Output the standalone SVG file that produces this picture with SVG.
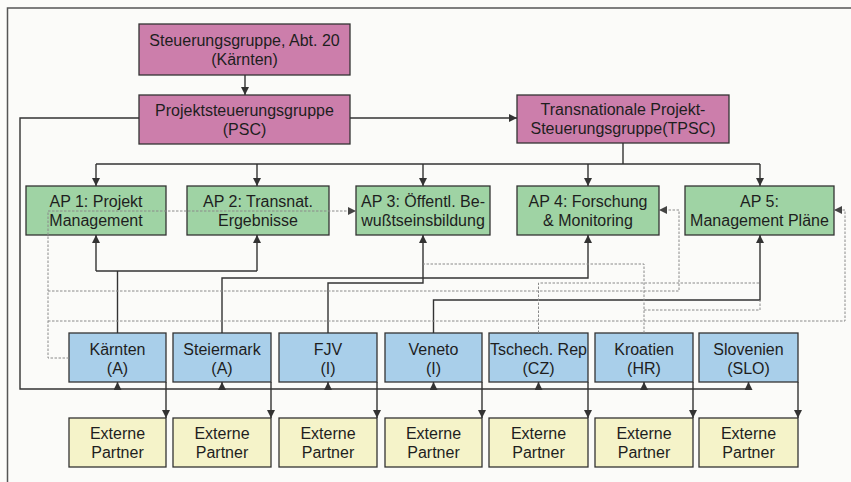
<svg xmlns="http://www.w3.org/2000/svg" width="851" height="482" viewBox="0 0 851 482">
<style>
.bg{fill:#fbfbf9}
.frame{fill:none;stroke:#555;stroke-width:1.5}
.box{stroke:#333;stroke-width:1.3}
.pink{fill:#cc7eab}
.green{fill:#9fd3a4}
.blue{fill:#a9cfea}
.yellow{fill:#f5f3c9}
text{font-family:"Liberation Sans",Arial,sans-serif;font-size:16px;fill:#1e1e1e;text-anchor:middle}
.solid{fill:none;stroke:#333;stroke-width:1.4}
.dot{fill:none;stroke:#8a8a8a;stroke-width:1;stroke-dasharray:2.5,1.5}
</style>
<defs>
<marker id="ah" viewBox="0 0 10 10" refX="10" refY="5" markerWidth="8" markerHeight="8" markerUnits="userSpaceOnUse" orient="auto">
<path d="M0,0 L10,5 L0,10 z" fill="#333"/>
</marker>
<marker id="ahg" viewBox="0 0 10 10" refX="10" refY="5" markerWidth="8" markerHeight="8" markerUnits="userSpaceOnUse" orient="auto">
<path d="M0,0 L10,5 L0,10 z" fill="#444"/>
</marker>
</defs>
<rect class="bg" x="0" y="0" width="851" height="482"/>
<path class="frame" d="M7.5,482 V8 H851"/>

<g id="steuerungsgruppe"><rect class="box pink" x="139" y="24" width="211" height="51"/><text x="244.5" y="46">Steuerungsgruppe, Abt. 20</text><text x="244.5" y="65">(Kärnten)</text></g>
<g id="psc"><rect class="box pink" x="139" y="95" width="211" height="49"/><text x="244.5" y="116">Projektsteuerungsgruppe</text><text x="244.5" y="135">(PSC)</text></g>
<g id="tpsc"><rect class="box pink" x="517" y="95" width="212" height="48"/><text x="623" y="115">Transnationale Projekt-</text><text x="623" y="134">Steuerungsgruppe(TPSC)</text></g>

<g id="ap1"><rect class="box green" x="26" y="186" width="140" height="49"/><text x="96" y="207">AP 1: Projekt</text><text x="96" y="226">Management</text></g>
<g id="ap2"><rect class="box green" x="187" y="186" width="142" height="49"/><text x="258" y="207">AP 2: Transnat.</text><text x="258" y="226">Ergebnisse</text></g>
<g id="ap3"><rect class="box green" x="356" y="186" width="134" height="49"/><text x="423" y="207">AP 3: Öffentl. Be-</text><text x="423" y="226">wußtseinsbildung</text></g>
<g id="ap4"><rect class="box green" x="517" y="186" width="142" height="49"/><text x="588" y="207">AP 4: Forschung</text><text x="588" y="226">&amp; Monitoring</text></g>
<g id="ap5"><rect class="box green" x="685" y="186" width="149" height="49"/><text x="759.5" y="207">AP 5:</text><text x="759.5" y="226">Management Pläne</text></g>

<g id="kaernten"><rect class="box blue" x="69" y="333" width="97" height="49"/><text x="117.5" y="355">Kärnten</text><text x="117.5" y="374">(A)</text></g>
<g id="steiermark"><rect class="box blue" x="173" y="333" width="98" height="49"/><text x="222" y="355">Steiermark</text><text x="222" y="374">(A)</text></g>
<g id="fjv"><rect class="box blue" x="279" y="333" width="98" height="49"/><text x="328" y="355">FJV</text><text x="328" y="374">(I)</text></g>
<g id="veneto"><rect class="box blue" x="385" y="333" width="97" height="49"/><text x="433.5" y="355">Veneto</text><text x="433.5" y="374">(I)</text></g>
<g id="tschech"><rect class="box blue" x="489" y="333" width="99" height="49"/><text x="538.5" y="355">Tschech. Rep</text><text x="538.5" y="374">(CZ)</text></g>
<g id="kroatien"><rect class="box blue" x="595" y="333" width="98" height="49"/><text x="644" y="355">Kroatien</text><text x="644" y="374">(HR)</text></g>
<g id="slovenien"><rect class="box blue" x="699" y="333" width="99" height="49"/><text x="748.5" y="355">Slovenien</text><text x="748.5" y="374">(SLO)</text></g>

<g id="ep1"><rect class="box yellow" x="69" y="418" width="97" height="49"/><text x="117.5" y="439">Externe</text><text x="117.5" y="458">Partner</text></g>
<g id="ep2"><rect class="box yellow" x="173" y="418" width="98" height="49"/><text x="222" y="439">Externe</text><text x="222" y="458">Partner</text></g>
<g id="ep3"><rect class="box yellow" x="279" y="418" width="98" height="49"/><text x="328" y="439">Externe</text><text x="328" y="458">Partner</text></g>
<g id="ep4"><rect class="box yellow" x="385" y="418" width="97" height="49"/><text x="433.5" y="439">Externe</text><text x="433.5" y="458">Partner</text></g>
<g id="ep5"><rect class="box yellow" x="489" y="418" width="99" height="49"/><text x="538.5" y="439">Externe</text><text x="538.5" y="458">Partner</text></g>
<g id="ep6"><rect class="box yellow" x="595" y="418" width="98" height="49"/><text x="644" y="439">Externe</text><text x="644" y="458">Partner</text></g>
<g id="ep7"><rect class="box yellow" x="699" y="418" width="99" height="49"/><text x="748.5" y="439">Externe</text><text x="748.5" y="458">Partner</text></g>

<g id="connectors">
<path class="solid" d="M245,75 V95" marker-end="url(#ah)"/>
<path class="solid" d="M350,118 H517" marker-end="url(#ah)"/>
<path class="solid" d="M623,143 V164"/>
<path class="solid" d="M96,164 H760"/>
<path class="solid" d="M96,164 V186" marker-end="url(#ah)"/>
<path class="solid" d="M257,164 V186" marker-end="url(#ah)"/>
<path class="solid" d="M423,164 V186" marker-end="url(#ah)"/>
<path class="solid" d="M588,164 V186" marker-end="url(#ah)"/>
<path class="solid" d="M760,164 V186" marker-end="url(#ah)"/>
<path class="solid" d="M139,118 H20 V389 H748"/>
<path class="solid" d="M117.5,389 V382" marker-end="url(#ah)"/>
<path class="solid" d="M222,389 V382" marker-end="url(#ah)"/>
<path class="solid" d="M328,389 V382" marker-end="url(#ah)"/>
<path class="solid" d="M433.5,389 V382" marker-end="url(#ah)"/>
<path class="solid" d="M538.5,389 V382" marker-end="url(#ah)"/>
<path class="solid" d="M644,389 V382" marker-end="url(#ah)"/>
<path class="solid" d="M748.5,389 V382" marker-end="url(#ah)"/>
<path class="solid" d="M166,382 V418" marker-end="url(#ah)"/>
<path class="solid" d="M271,382 V418" marker-end="url(#ah)"/>
<path class="solid" d="M377,382 V418" marker-end="url(#ah)"/>
<path class="solid" d="M482,382 V418" marker-end="url(#ah)"/>
<path class="solid" d="M588,382 V418" marker-end="url(#ah)"/>
<path class="solid" d="M693,382 V418" marker-end="url(#ah)"/>
<path class="solid" d="M798,382 V418" marker-end="url(#ah)"/>
<path class="solid" d="M117.5,333 V271"/>
<path class="solid" d="M96,271 H257"/>
<path class="solid" d="M96,271 V235" marker-end="url(#ah)"/>
<path class="solid" d="M257,271 V235" marker-end="url(#ah)"/>
<path class="solid" d="M222,333 V278 H588 V235" marker-end="url(#ah)"/>
<path class="solid" d="M328,333 V283 H423 V235" marker-end="url(#ah)"/>
<path class="solid" d="M433.5,333 V300 H760 V235" marker-end="url(#ah)"/>
<path class="dot" d="M69,358 H48 V211 H356" marker-end="url(#ahg)"/>
<path class="dot" d="M48,291 H679 V210 H659" marker-end="url(#ahg)"/>
<path class="dot" d="M48,321 H845 V210 H834" marker-end="url(#ahg)"/>
<path class="dot" d="M644,333 V264 H423"/>
<path class="dot" d="M644,310 H760 V300"/>
<path class="dot" d="M538.5,333 V283 H760"/>
</g>
</svg>
